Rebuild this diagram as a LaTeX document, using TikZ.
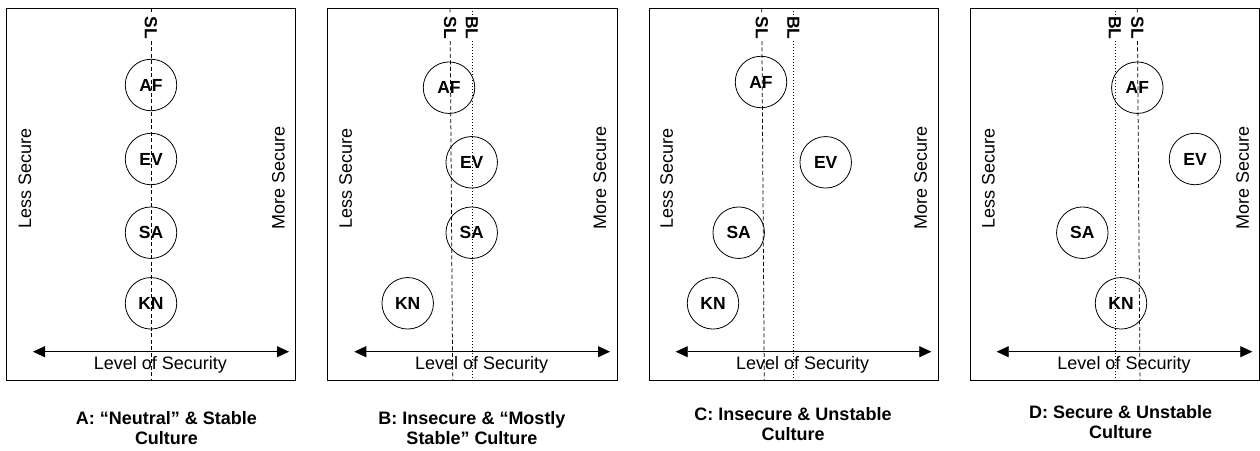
\documentclass[tikz,border=0pt]{standalone}
\usepackage{fontspec}
\setmainfont{Liberation Sans}
\usetikzlibrary{arrows.meta}
\begin{document}
\begin{tikzpicture}[x=1pt,y=-1pt,
  panel/.style={draw, line width=0.8pt},
  factor/.style={circle, draw, line width=0.8pt, minimum size=51.5pt, inner sep=0pt, font=\fontsize{17.5}{20}\selectfont\bfseries},
  sline/.style={line width=0.75pt, dash pattern=on 4pt off 2.5pt},
  bline/.style={line width=0.75pt, dash pattern=on 1pt off 2pt},
  lvl/.style={fill=white, inner sep=1.5pt, rotate=-90, font=\fontsize{17.5}{20}\selectfont\bfseries},
  side/.style={rotate=90, inner sep=0pt, font=\fontsize{18}{20}\selectfont},
  axis/.style={{Triangle[length=12pt,width=11pt]}-{Triangle[length=12pt,width=11pt]}, line width=0.8pt},
  axlab/.style={anchor=base, inner sep=0pt, font=\fontsize{18}{20}\selectfont},
  capt/.style={align=center, inner sep=0pt, font=\fontsize{18}{20}\selectfont\bfseries}
]
\useasboundingbox (0,0) rectangle (1260,450);

% ---------------- Panel A ----------------
\draw[panel] (6.7,8.3) rectangle (295.3,380.7);
\coordinate (A-slt) at (151,8.3);
\coordinate (A-slb) at (151,380.7);
\draw[sline] (A-slt) -- (A-slb);
\coordinate (A-al) at (33,351.7);
\coordinate (A-ar) at (289,351.7);
\draw[axis] (A-al) -- (A-ar);
\node[factor] (A-AF) at (151,85) {AF};
\node[factor] (A-EV) at (151,159) {EV};
\node[factor] (A-SA) at (151,232.7) {SA};
\node[factor] (A-KN) at (151,303.3) {KN};
\node[lvl] (A-SL) at (151,28) {SL};
\node[side] (A-less) at (25,178.3) {Less Secure};
\node[side] (A-more) at (278.5,178.3) {More Secure};
\node[axlab] (A-lev) at (160.3,369.3) {Level of Security};
\node[capt] (A-cap) at (166.5,427.7) {A: “Neutral” \& Stable\\Culture};

% ---------------- Panel B ----------------
\draw[panel] (327.7,8.3) rectangle (617,380.7);
\coordinate (B-slt) at (450,8.3);
\coordinate (B-slb) at (452.7,380.7);
\draw[sline] (B-slt) -- (B-slb);
\coordinate (B-blt) at (472,8.3);
\coordinate (B-blb) at (472,380.7);
\draw[bline] (B-blt) -- (B-blb);
\coordinate (B-al) at (354.3,351.7);
\coordinate (B-ar) at (610,351.7);
\draw[axis] (B-al) -- (B-ar);
\node[factor] (B-AF) at (449,87.7) {AF};
\node[factor] (B-EV) at (471.7,162.3) {EV};
\node[factor] (B-SA) at (471.7,232.7) {SA};
\node[factor] (B-KN) at (407.7,303.3) {KN};
\node[lvl] (B-SL) at (450.1,28) {SL};
\node[lvl] (B-BL) at (472,28) {BL};
\node[side] (B-less) at (345.7,178.3) {Less Secure};
\node[side] (B-more) at (600,178.3) {More Secure};
\node[axlab] (B-lev) at (481.7,369.3) {Level of Security};
\node[capt] (B-cap) at (472,427.7) {B: Insecure \& “Mostly\\Stable” Culture};

% ---------------- Panel C ----------------
\draw[panel] (649,8.3) rectangle (938,380.7);
\coordinate (C-slt) at (761.7,8.3);
\coordinate (C-slb) at (764.3,380.7);
\draw[sline] (C-slt) -- (C-slb);
\coordinate (C-blt) at (793.3,8.3);
\coordinate (C-blb) at (793.3,380.7);
\draw[bline] (C-blt) -- (C-blb);
\coordinate (C-al) at (675.7,351.7);
\coordinate (C-ar) at (931.3,351.7);
\draw[axis] (C-al) -- (C-ar);
\node[factor] (C-AF) at (761,82) {AF};
\node[factor] (C-EV) at (825.7,162.3) {EV};
\node[factor] (C-SA) at (738.7,232.7) {SA};
\node[factor] (C-KN) at (713,303.3) {KN};
\node[lvl] (C-SL) at (761.8,28) {SL};
\node[lvl] (C-BL) at (793.3,28) {BL};
\node[side] (C-less) at (666.7,178.3) {Less Secure};
\node[side] (C-more) at (920.7,178.3) {More Secure};
\node[axlab] (C-lev) at (802.7,369.3) {Level of Security};
\node[capt] (C-cap) at (793,424) {C: Insecure \& Unstable\\Culture};

% ---------------- Panel D ----------------
\draw[panel] (970,8.3) rectangle (1259.3,380.7);
\coordinate (D-blt) at (1115,8.3);
\coordinate (D-blb) at (1115,380.7);
\draw[bline] (D-blt) -- (D-blb);
\coordinate (D-slt) at (1137.3,8.3);
\coordinate (D-slb) at (1140,380.7);
\draw[sline] (D-slt) -- (D-slb);
\coordinate (D-al) at (996.7,351.7);
\coordinate (D-ar) at (1252.3,351.7);
\draw[axis] (D-al) -- (D-ar);
\node[factor] (D-AF) at (1137.3,87.7) {AF};
\node[factor] (D-EV) at (1195,159) {EV};
\node[factor] (D-SA) at (1082.3,232.7) {SA};
\node[factor] (D-KN) at (1121,303.3) {KN};
\node[lvl] (D-BL) at (1115,28) {BL};
\node[lvl] (D-SL) at (1137.4,28) {SL};
\node[side] (D-less) at (988.3,178.3) {Less Secure};
\node[side] (D-more) at (1242.7,178.3) {More Secure};
\node[axlab] (D-lev) at (1124,369.3) {Level of Security};
\node[capt] (D-cap) at (1120.6,421.7) {D: Secure \& Unstable\\Culture};
\end{tikzpicture}
\end{document}
